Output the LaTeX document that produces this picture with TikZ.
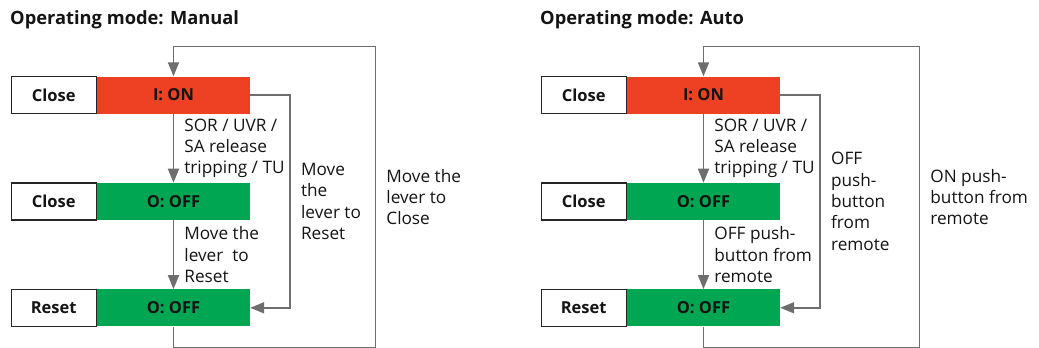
\documentclass[tikz,border=0pt]{standalone}
\usepackage{fontspec}
\setmainfont{Open Sans}
\usetikzlibrary{arrows.meta, positioning}
\definecolor{onred}{RGB}{238,65,36}
\definecolor{offgreen}{RGB}{0,166,81}
\definecolor{linegray}{RGB}{110,110,110}
\definecolor{textdark}{RGB}{20,20,20}

\begin{document}
\begin{tikzpicture}[
        x=1pt, y=-1pt,
        node distance=69pt,
        state/.style={rectangle, minimum width=153pt, minimum height=37pt,
                      inner sep=0pt, text=textdark,
                      font=\fontsize{16.5}{19}\selectfont\bfseries},
        modebox/.style={rectangle, draw=black!85, line width=1.2pt, fill=white,
                        minimum width=85pt, minimum height=37pt, inner sep=0pt,
                        text=textdark, font=\fontsize{16.5}{19}\selectfont\bfseries},
        title/.style={anchor=base west, inner sep=0pt, text=textdark,
                      font=\fontsize{18.3}{21}\selectfont\bfseries},
        txt/.style={right, inner sep=0pt, xshift=10pt, align=left, text=textdark,
                    font=\fontsize{17.2}{21.3}\selectfont},
        arr/.style={-{Triangle[length=14pt, width=11pt]}, line width=1.8pt, linegray}
      ]
        \useasboundingbox (0,0) rectangle (1039,348);

        % Manual
        \node[title] (tman) at (10,24) {Operating mode: Manual};
        \node[state, fill=onred] (on1) at (173.5,95) {I: ON};
        \node[state, fill=offgreen, below=of on1] (off1) {O: OFF};
        \node[state, fill=offgreen, below=of off1] (rst1) {O: OFF};
        \node[modebox, left=0pt of on1] (cl1) {Close};
        \node[modebox, left=0pt of off1] (cl2) {Close};
        \node[modebox, left=0pt of rst1] (re1) {Reset};

        \draw[arr] (on1) -- node[txt] {SOR / UVR /\\SA release\\tripping / TU} (off1);
        \draw[arr] (off1) -- node[txt] {Move the\\lever~ to\\Reset} (rst1);
        \draw[arr] (on1.east) -- ++(40,0) |- node[txt, pos=0.25] {Move\\the\\lever to\\Reset} (rst1.east);
        \draw[arr] (rst1.south) -- ++(0,21) -| node[txt, pos=0.75] {Move the\\lever to\\Close} (375.5,46.5) -| (on1.north);

        % Auto
        \node[title] (tauto) at (540,24) {Operating mode: Auto};
        \node[state, fill=onred] (on2) at (703.5,95) {I: ON};
        \node[state, fill=offgreen, below=of on2] (off2) {O: OFF};
        \node[state, fill=offgreen, below=of off2] (rst2) {O: OFF};
        \node[modebox, left=0pt of on2] (cl3) {Close};
        \node[modebox, left=0pt of off2] (cl4) {Close};
        \node[modebox, left=0pt of rst2] (re2) {Reset};

        \draw[arr] (on2) -- node[txt] {SOR / UVR /\\SA release\\tripping / TU} (off2);
        \draw[arr] (off2) -- node[txt] {OFF push-\\button from\\remote} (rst2);
        \draw[arr] (on2.east) -- ++(40,0) |- node[txt, pos=0.25] {OFF\\push-\\button\\from\\remote} (rst2.east);
        \draw[arr] (rst2.south) -- ++(0,21) -| node[txt, pos=0.75] {ON push-\\button from\\remote} (919.5,46.5) -| (on2.north);
      \end{tikzpicture}
\end{document}
